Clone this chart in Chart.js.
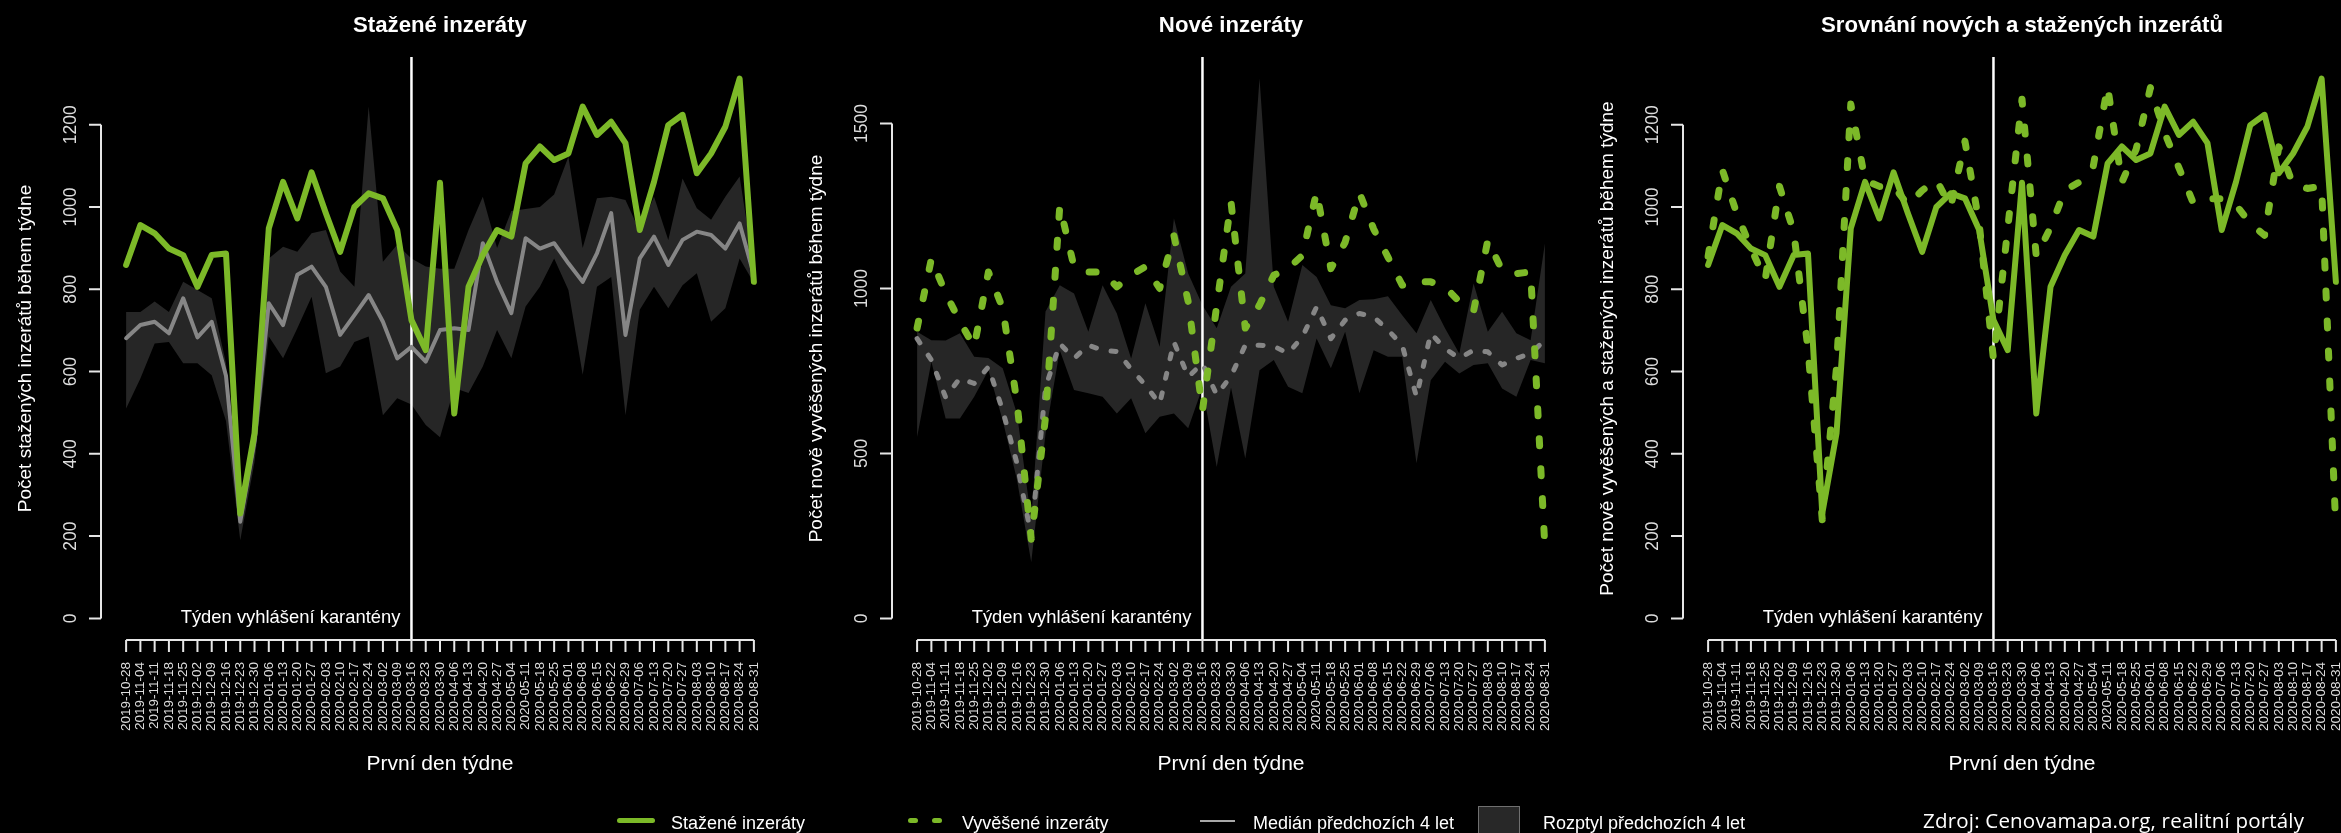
<!DOCTYPE html>
<html>
<head>
<meta charset="utf-8">
<script src="https://cdn.jsdelivr.net/npm/chart.js@4.4.1/dist/chart.umd.min.js"></script>
<style>
  html, body { margin: 0; padding: 0; background: #000; width: 2341px; height: 833px; overflow: hidden; }
  .panel { position: absolute; top: 0; width: 791px; height: 833px; }
  .lg { position: absolute; color: #fff; font-family: "Liberation Sans", Arial, sans-serif; font-size: 18px; line-height: 18px; white-space: nowrap; }
  .sw { position: absolute; }
</style>
</head>
<body>
<div class="panel" style="left:0px"><canvas id="c1" width="791" height="833"></canvas></div>
<div class="panel" style="left:791px"><canvas id="c2" width="791" height="833"></canvas></div>
<div class="panel" style="left:1582px"><canvas id="c3" width="791" height="833"></canvas></div>

<div class="sw" style="left:617px;top:818px;width:38px;height:5px;border-radius:3px;background:#7cb928"></div>
<div class="lg" style="left:671px;top:813.5px">Stažené inzeráty</div>
<div class="sw" style="left:908px;top:818px;width:10px;height:5px;border-radius:3px;background:#7cb928"></div>
<div class="sw" style="left:932px;top:818px;width:10px;height:5px;border-radius:3px;background:#7cb928"></div>
<div class="lg" style="left:962px;top:813.5px">Vyvěšené inzeráty</div>
<div class="sw" style="left:1200px;top:819.5px;width:35px;height:2.5px;background:#a8a8a8"></div>
<div class="lg" style="left:1253px;top:813.5px">Medián předchozích 4 let</div>
<div class="sw" style="left:1478px;top:806px;width:40px;height:40px;background:#282828;border:1px solid #707070"></div>
<div class="lg" style="left:1543px;top:813.5px">Rozptyl předchozích 4 let</div>
<div class="lg" style="left:1923px;top:809.5px;font-family:'Open Sans',Lato,sans-serif;font-size:20.5px;line-height:20.5px;letter-spacing:0.2px">Zdroj: Cenovamapa.org, realitní portály</div>

<script>
// weekly counts, first day of the week on the x axis
const weeks = ['2019-10-28','2019-11-04','2019-11-11','2019-11-18','2019-11-25','2019-12-02','2019-12-09',
  '2019-12-16','2019-12-23','2019-12-30','2020-01-06','2020-01-13','2020-01-20','2020-01-27','2020-02-03',
  '2020-02-10','2020-02-17','2020-02-24','2020-03-02','2020-03-09','2020-03-16','2020-03-23','2020-03-30',
  '2020-04-06','2020-04-13','2020-04-20','2020-04-27','2020-05-04','2020-05-11','2020-05-18','2020-05-25',
  '2020-06-01','2020-06-08','2020-06-15','2020-06-22','2020-06-29','2020-07-06','2020-07-13','2020-07-20',
  '2020-07-27','2020-08-03','2020-08-10','2020-08-17','2020-08-24','2020-08-31'];
const quarantineWeek = '2020-03-16';

// withdrawn listings
const withdrawn = [859, 956, 936, 899, 883, 806, 883, 887, 255, 450, 948, 1061, 972, 1084, 985, 891, 1000, 1033,
  1021, 944, 725, 652, 1059, 498, 806, 883, 944, 928, 1106, 1147, 1114, 1130, 1244, 1175, 1207, 1155, 944, 1061,
  1199, 1224, 1082, 1130, 1195, 1312, 818];
const withdrawnMedian = [681, 713, 721, 693, 778, 683, 721, 590, 235, 430, 766, 713, 835, 855, 806, 689, 737, 786,
  721, 632, 660, 624, 701, 705, 701, 912, 818, 742, 924, 899, 912, 863, 818, 887, 985, 689, 875, 928, 859, 920,
  940, 932, 899, 960, 835];
const withdrawnHigh = [745, 745, 770, 745, 818, 798, 778, 620, 265, 480, 875, 903, 891, 936, 944, 843, 806, 1244,
  867, 908, 875, 855, 850, 850, 944, 1025, 900, 990, 995, 1000, 1030, 1122, 900, 1021, 1025, 1017, 941, 1025, 920,
  1069, 997, 969, 1025, 1074, 850];
const withdrawnLow = [510, 583, 668, 672, 620, 620, 591, 480, 190, 380, 685, 632, 705, 782, 596, 612, 672, 685, 494,
  535, 520, 470, 440, 560, 548, 612, 701, 632, 758, 806, 875, 798, 592, 806, 830, 494, 750, 806, 754, 810, 839,
  721, 754, 875, 815];

// new listings
const newListings = [880, 1090, 985, 900, 823, 1050, 940, 655, 240, 610, 1250, 1065, 1050, 1050, 1005, 1040, 1066,
  1000, 1160, 960, 630, 948, 1262, 880, 950, 1040, 1060, 1100, 1293, 1060, 1140, 1290, 1180, 1095, 1010, 1020,
  1020, 1005, 960, 931, 1146, 1055, 1045, 1050, 215];
const newMedian = [848, 783, 670, 728, 712, 762, 630, 470, 250, 700, 833, 788, 828, 813, 809, 756, 707, 650, 838,
  732, 773, 677, 734, 828, 828, 825, 803, 853, 944, 848, 904, 924, 914, 874, 828, 672, 864, 818, 788, 813, 808,
  768, 788, 803, 843];
const newHigh = [869, 843, 842, 864, 793, 789, 758, 620, 300, 930, 1010, 985, 869, 1010, 924, 788, 955, 823, 1212,
  1045, 949, 879, 1005, 1045, 1636, 1005, 899, 1071, 1035, 949, 940, 965, 967, 976, 919, 864, 965, 879, 803, 1015,
  869, 929, 864, 843, 1136];
const newLow = [550, 778, 606, 606, 672, 752, 600, 420, 170, 560, 813, 692, 682, 672, 621, 667, 561, 611, 621, 576,
  700, 459, 700, 485, 752, 783, 702, 682, 848, 758, 869, 682, 813, 793, 793, 470, 722, 778, 742, 768, 773, 697,
  672, 783, 773];

const ticksWithdrawn = [0, 200, 400, 600, 800, 1000, 1200];
const ticksNew = [0, 500, 1000, 1500];

const GREEN = '#7cb928';
const GRAY = '#868686';
const BAND = '#262626';
const FONT = '"Liberation Sans", Arial, sans-serif';

const pts = (arr) => arr.map((v, i) => ({ x: i, y: v }));

const solid = (arr, color, width) => ({
  data: pts(arr), borderColor: color, borderWidth: width, pointRadius: 0,
  borderJoinStyle: 'round', borderCapStyle: 'round', fill: false,
});
const dotted = (arr, color, width, dash) => ({
  ...solid(arr, color, width), borderDash: dash,
});
const band = (hi, lo) => [
  { data: pts(hi), borderColor: 'transparent', borderWidth: 0, pointRadius: 0, fill: '+1', backgroundColor: BAND },
  { data: pts(lo), borderColor: 'transparent', borderWidth: 0, pointRadius: 0, fill: false },
];

// R style axes, titles and the quarantine marker
const rAxes = {
  id: 'rAxes',
  beforeDatasetDraw(chart, args, o) {
    if (args.index !== o.lineBefore) return;
    const { ctx, chartArea: a, scales: { x } } = chart;
    const px = x.getPixelForValue(weeks.indexOf(quarantineWeek));
    ctx.save();
    ctx.strokeStyle = '#ffffff';
    ctx.lineWidth = 2.5;
    ctx.beginPath();
    ctx.moveTo(px, a.top);
    ctx.lineTo(px, a.bottom);
    ctx.stroke();
    ctx.restore();
  },
  afterDraw(chart, args, o) {
    const { ctx, chartArea: a, scales: { x, y } } = chart;
    const last = o.yTicks.length - 1;
    ctx.save();
    ctx.strokeStyle = '#e6e6e6';
    ctx.lineWidth = 2;
    ctx.beginPath();
    ctx.moveTo(a.left, y.getPixelForValue(o.yTicks[0]));
    ctx.lineTo(a.left, y.getPixelForValue(o.yTicks[last]));
    o.yTicks.forEach((v) => {
      const p = y.getPixelForValue(v);
      ctx.moveTo(a.left, p);
      ctx.lineTo(a.left - 12, p);
    });
    ctx.moveTo(x.getPixelForValue(0), a.bottom);
    ctx.lineTo(x.getPixelForValue(weeks.length - 1), a.bottom);
    weeks.forEach((w, i) => {
      const p = x.getPixelForValue(i);
      ctx.moveTo(p, a.bottom);
      ctx.lineTo(p, a.bottom + 12);
    });
    ctx.stroke();

    ctx.fillStyle = '#dddddd';
    ctx.font = '17.5px ' + FONT;
    ctx.textAlign = 'center';
    ctx.textBaseline = 'alphabetic';
    o.yTicks.forEach((v) => {
      ctx.save();
      ctx.translate(a.left - 25, y.getPixelForValue(v));
      ctx.rotate(-Math.PI / 2);
      ctx.fillText(String(v), 0, 0);
      ctx.restore();
    });

    ctx.font = '13.5px ' + FONT;
    ctx.textAlign = 'right';
    ctx.textBaseline = 'middle';
    weeks.forEach((w, i) => {
      ctx.save();
      ctx.translate(x.getPixelForValue(i), a.bottom + 22);
      ctx.rotate(-Math.PI / 2);
      ctx.fillText(w, 0, 0);
      ctx.restore();
    });

    const cx = (a.left + a.right) / 2;
    ctx.fillStyle = '#ffffff';
    ctx.textAlign = 'center';
    ctx.textBaseline = 'alphabetic';
    ctx.font = 'bold 22.2px ' + FONT;
    ctx.fillText(o.title, cx, 32);
    ctx.font = '21px ' + FONT;
    ctx.fillText('První den týdne', cx, 770);

    ctx.save();
    ctx.font = '19px ' + FONT;
    ctx.translate(a.left - 70, (a.top + a.bottom) / 2);
    ctx.rotate(-Math.PI / 2);
    ctx.fillText(o.yTitle, 0, 0);
    ctx.restore();

    ctx.font = '18.4px ' + FONT;
    ctx.textAlign = 'right';
    ctx.fillText('Týden vyhlášení karantény', x.getPixelForValue(weeks.indexOf(quarantineWeek)) - 11, 623);
    ctx.restore();
  },
};

function makeChart(id, datasets, yMax, yTicks, title, yTitle) {
  const n = weeks.length - 1;
  return new Chart(document.getElementById(id).getContext('2d'), {
    type: 'line',
    data: { datasets },
    options: {
      responsive: false,
      animation: false,
      events: [],
      layout: { padding: { left: 101, right: 12, top: 57, bottom: 193 } },
      scales: {
        x: { type: 'linear', display: false, min: -0.04 * n, max: n * 1.04 },
        y: { type: 'linear', display: false, min: -0.04 * yMax, max: yMax * 1.04 },
      },
      plugins: {
        legend: { display: false },
        tooltip: { enabled: false },
        rAxes: { title, yTitle, yTicks, lineBefore: 1 },
      },
    },
    plugins: [rAxes],
  });
}

makeChart('c1', [
  solid(withdrawn, GREEN, 6),
  solid(withdrawnMedian, GRAY, 4),
  ...band(withdrawnHigh, withdrawnLow),
], 1312, ticksWithdrawn, 'Stažené inzeráty', 'Počet stažených inzerátů během týdne');

makeChart('c2', [
  dotted(newListings, GREEN, 7, [7, 23]),
  dotted(newMedian, GRAY, 5, [5, 15]),
  ...band(newHigh, newLow),
], 1636, ticksNew, 'Nové inzeráty', 'Počet nově vyvěšených inzerátů během týdne');

makeChart('c3', [
  dotted(newListings, GREEN, 7, [7, 23]),
  solid(withdrawn, GREEN, 6),
], 1312, ticksWithdrawn, 'Srovnání nových a stažených inzerátů', 'Počet nově vyvěšených a stažených inzerátů během týdne');
</script>
</body>
</html>
